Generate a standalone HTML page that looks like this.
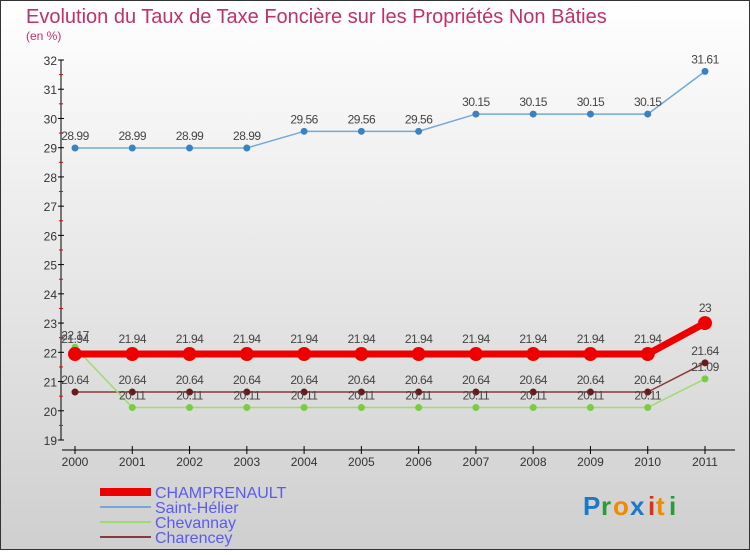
<!DOCTYPE html>
<html><head><meta charset="utf-8">
<style>
html,body{margin:0;padding:0;}
body{width:750px;height:550px;overflow:hidden;font-family:"Liberation Sans",sans-serif;}
</style></head>
<body>
<svg id="chart" width="750" height="550" xmlns="http://www.w3.org/2000/svg">
<defs>
<linearGradient id="bg" x1="0" y1="0" x2="0" y2="1">
<stop offset="0" stop-color="#ffffff"/><stop offset="1" stop-color="#cfcfcf"/>
</linearGradient>
</defs>
<rect x="0.5" y="0.5" width="749" height="549" fill="url(#bg)" stroke="#333"/>
<text x="26" y="23" font-size="20" fill="#c0306a">Evolution du Taux de Taxe Foncière sur les Propriétés Non Bâties</text>
<text x="26" y="40" font-size="12" fill="#c0306a">(en %)</text>
<g id="axes"></g>
<g id="series"></g>
<g id="legend"></g>
<g font-size="26" font-weight="bold">
<text x="583" y="515" fill="#1e78c8">P</text><text x="601" y="515" fill="#2a9a3a">r</text><text x="613" y="515" fill="#f08a00">o</text><text x="630" y="515" fill="#1e78c8">x</text><text x="648" y="515" fill="#e03010">i</text><text x="656" y="515" fill="#f08a00">t</text><text x="669" y="515" fill="#2a9a3a">i</text>
</g>
</svg>
<script>
const years = [2000,2001,2002,2003,2004,2005,2006,2007,2008,2009,2010,2011];
const yTicks = [19,20,21,22,23,24,25,26,27,28,29,30,31,32];
const champrenault = [21.94,21.94,21.94,21.94,21.94,21.94,21.94,21.94,21.94,21.94,21.94,23];
const saintHelier = [28.99,28.99,28.99,28.99,29.56,29.56,29.56,30.15,30.15,30.15,30.15,31.61];
const chevannay = [22.17,20.11,20.11,20.11,20.11,20.11,20.11,20.11,20.11,20.11,20.11,21.09];
const charencey = [20.64,20.64,20.64,20.64,20.64,20.64,20.64,20.64,20.64,20.64,20.64,21.64];
const seriesNames = ["CHAMPRENAULT","Saint-Hélier","Chevannay","Charencey"];

const NS="http://www.w3.org/2000/svg";
const xScale = i => 75 + i*(705-75)/(years.length-1);
const yScale = v => 440 - (v-19)*(440-60)/(32-19);
function mk(tag, attrs, parent){const e=document.createElementNS(NS,tag);for(const k in attrs)e.setAttribute(k,attrs[k]);parent.appendChild(e);return e;}
const axes=document.getElementById('axes');
let a=mk('line',{x1:61,y1:60,x2:61,y2:440,stroke:'#000','stroke-width':1},axes);


yTicks.forEach((t,i)=>{
  const y=yScale(t);
  const l=mk('line',{x1:58,y1:y,x2:64,y2:y,stroke:'#000'},axes);
  
  
  const tx=mk('text',{x:57,y:y+5,'font-size':12,fill:'#333','text-anchor':'end'},axes);
  tx.textContent=t;
  
  
  if(i<yTicks.length-1){
    const m=mk('line',{x1:59,y1:yScale(t+0.5),x2:63,y2:yScale(t+0.5),stroke:'#e00'},axes);
    
    
  }
});
a=mk('line',{x1:62,y1:450,x2:735,y2:450,stroke:'#000'},axes);


years.forEach((yr,i)=>{
  const x=xScale(i);
  const l=mk('line',{x1:x,y1:446,x2:x,y2:454,stroke:'#000'},axes);
  
  
  const tx=mk('text',{x:x,y:466,'font-size':12,fill:'#333','text-anchor':'middle'},axes);
  tx.textContent=yr;
  
  
});
const defs=[
 {d:saintHelier,color:'#72a9d6',pt:'#3c82c0',w:1.5,r:3.5,name:'saint-helier',lo:-8},
 {d:charencey,color:'#8a3a3a',pt:'#6a1a1a',w:1.5,r:3.5,name:'charencey',lo:-8},
 {d:chevannay,color:'#9edb70',pt:'#7acc40',w:1.5,r:3.5,name:'chevannay',lo:-8},
 {d:champrenault,color:'#ee0000',pt:'#ee0000',w:7,r:7,name:'champrenault',lo:-11}
];
const sg=document.getElementById('series');
defs.forEach(s=>{
  const g=mk('g',{},sg);
  
  
  const pts=s.d.map((v,i)=>xScale(i)+','+yScale(v)).join(' ');
  const pl=mk('polyline',{points:pts,fill:'none',stroke:s.color,'stroke-width':s.w},g);
  
  
  s.d.forEach((v,i)=>{
    const c=mk('circle',{cx:xScale(i),cy:yScale(v),r:s.r,fill:s.pt},g);
    
    
    const t=mk('text',{x:xScale(i),y:yScale(v)+s.lo,'font-size':12,fill:'#444','text-anchor':'middle','letter-spacing':'-0.5'},g);
    t.textContent=v;
    
    
  });
});
const lg=document.getElementById('legend');
const lstyle=[{c:'#ee0000',w:8},{c:'#72a9d6',w:2},{c:'#9edb70',w:2},{c:'#8a3a3a',w:2}];
seriesNames.forEach((n,i)=>{
  const y=492+i*15;
  const g=mk('g',{},lg);
  
  
  const l=mk('line',{x1:100,y1:y,x2:151,y2:y,stroke:lstyle[i].c,'stroke-width':lstyle[i].w},g);
  
  
  const t=mk('text',{x:155,y:y+6,'font-size':16,fill:'#5a5aee'},g);
  t.textContent=n;
  
  
});
</script>
</body></html>
